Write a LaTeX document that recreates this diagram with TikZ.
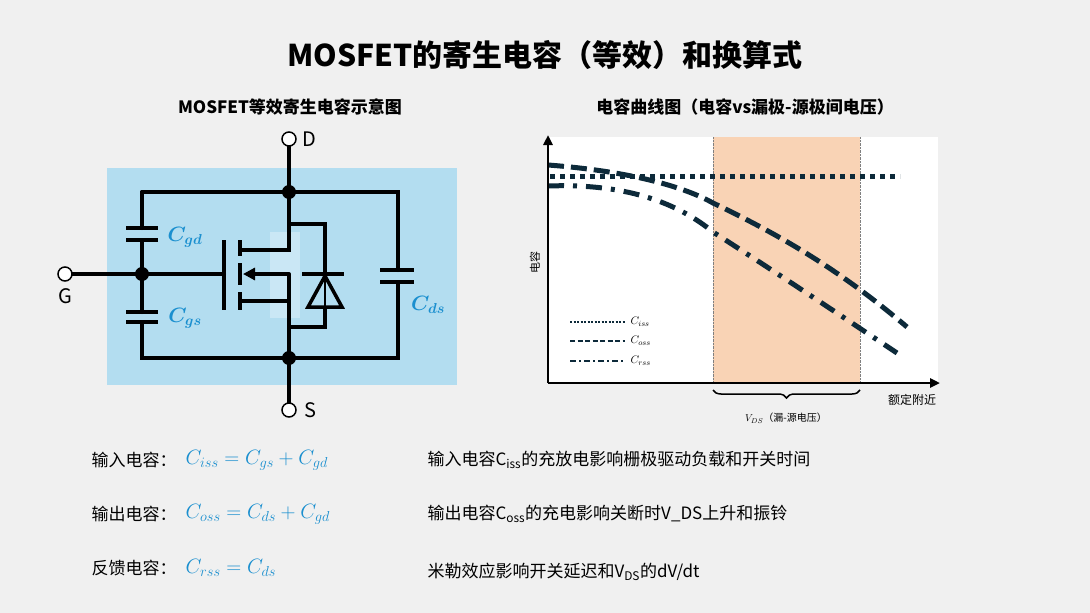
\documentclass[tikz,border=0pt]{standalone}
\usepackage{bm}
\usepackage{fontspec}
\setmainfont{Noto Sans CJK SC}
\setsansfont{Noto Sans CJK SC}
\usetikzlibrary{arrows.meta, decorations.pathreplacing, positioning}
\definecolor{bgcol}{HTML}{F0F0F0}
\definecolor{cktblue}{HTML}{B3DDF0}
\definecolor{capblue}{HTML}{1A8FCF}
\definecolor{band}{HTML}{F9D3B5}
\definecolor{curve}{HTML}{0D2A3A}
\tikzset{
  wire/.style={line width=4pt, line cap=round},
  plate/.style={line width=4pt},
  term/.style={circle, draw=black, fill=white, line width=1.5pt, minimum size=14pt, inner sep=0pt},
  dot/.style={circle, fill=black, minimum size=14pt, inner sep=0pt},
  caplabel/.style={text=capblue, font=\fontsize{20}{20}\selectfont},
  curveline/.style={curve, line width=5pt},
  legline/.style={curve, line width=1.2pt},
  leglabel/.style={anchor=west, font=\fontsize{11}{11}\selectfont},
  rowlabel/.style={anchor=west, font=\fontsize{17}{17}\selectfont},
  rowtext/.style={anchor=west, font=\fontsize{17}{17}\selectfont},
  formula/.style={anchor=west, text=capblue, font=\fontsize{22}{22}\selectfont},
}
\begin{document}
\begin{tikzpicture}[x=1pt, y=-1pt]
\useasboundingbox (0,0) rectangle (1090,613);
\fill[bgcol] (0,0) rectangle (1090,613);

% titles
\node[font=\bfseries\fontsize{30}{30}\selectfont] (title) at (545,55) {MOSFET的寄生电容（等效）和换算式};
\node[font=\bfseries\fontsize{17}{17}\selectfont] (subl) at (290,107) {MOSFET等效寄生电容示意图};
\node[font=\bfseries\fontsize{17}{17}\selectfont] (subr) at (745,107) {电容曲线图（电容vs漏极-源极间电压）};

% ---- circuit
\fill[cktblue] (107,168) rectangle (457,385);
\fill[cktblue!70!white] (270,232) rectangle (300,318);
\coordinate (dn) at (289,192);
\coordinate (sn) at (289,358);
\coordinate (gn) at (142,274);
\draw[wire] (142,192) -- (398,192) -- (398,270);
\draw[wire] (398,282) -- (398,358) -- (142,358) -- (142,322);
\draw[wire] (142,312) -- (142,240);
\draw[wire] (142,228) -- (142,192);
\draw[plate] (126,228) -- (158,228) (126,240) -- (158,240);
\draw[plate] (126,312) -- (158,312) (126,322) -- (158,322);
\draw[plate] (380,270) -- (414,270) (380,282) -- (414,282);
\node[caplabel] (cgd) at (185,237) {$\bm{C_{gd}}$};
\node[caplabel] (cgs) at (185,318) {$\bm{C_{gs}}$};
\node[caplabel] (cds) at (428,305) {$\bm{C_{ds}}$};
% mosfet
\draw[wire] (gn) -- (224,274);
\draw[plate] (224,240) -- (224,310);
\draw[plate] (240,240) -- (240,256) (240,263) -- (240,285) (240,292) -- (240,310);
\draw[wire] (240,250) -- (289,250) -- (dn);
\draw[wire] (240,301) -- (289,301) -- (sn);
\draw[wire] (289,274) -- (289,301);
\draw[line width=4pt, -{Triangle[length=12pt,width=12pt]}] (289,274) -- (243,274);
% diode
\draw[wire] (289,224) -- (325,224) -- (325,274);
\draw[wire] (325,308) -- (325,327) -- (289,327);
\draw[plate] (302,274) -- (344,274);
\draw[line width=3.5pt, line join=miter] (325,276) -- (342,307) -- (308,307) -- cycle;
\draw[line width=2.5pt] (325,276) -- (325,308);
% terminals
\draw[wire] (dn) -- (289,139);
\draw[wire] (sn) -- (289,410);
\draw[wire] (gn) -- (65,274);
\node[dot] (dnode) at (dn) {};
\node[dot] (snode) at (sn) {};
\node[dot] (gnode) at (gn) {};
\node[term] (dt) at (289,139) {};
\node[term] (st) at (289,410) {};
\node[term] (gt) at (65,274) {};
\node[font=\fontsize{20}{20}\selectfont, right=2pt of dt] (dlab) {D};
\node[font=\fontsize{20}{20}\selectfont, right=4pt of st] (slab) {S};
\node[font=\fontsize{20}{20}\selectfont, below=3pt of gt] (glab) {G};

% ---- chart
\fill[white] (548,137) rectangle (938,383);
\fill[band] (713,137) rectangle (860,383);
\draw[gray, densely dotted] (713,137) -- (713,383) (860,137) -- (860,383);
\draw[curveline, dash pattern=on 5pt off 5pt] (550,176) -- (900,176);
\draw[curveline, dash pattern=on 16pt off 7pt] (548,165) .. controls (640,172) and (690,190) .. (713,203) .. controls (780,235) and (840,270) .. (907,327);
\draw[curveline, dash pattern=on 16pt off 9pt on 4pt off 9pt] (548,186) .. controls (630,183) and (680,205) .. (713,232) .. controls (780,275) and (840,315) .. (897,353);
\coordinate (orig) at (548,383);
\draw[line width=2.5pt, -{Triangle[length=10pt,width=9pt]}] (orig) -- (548,135);
\draw[line width=2.5pt, -{Triangle[length=10pt,width=9pt]}] (orig) -- (940,383);
\node[rotate=90, font=\fontsize{11}{11}\selectfont] (ylab) at (535,262) {电容};
\node[font=\fontsize{12}{12}\selectfont] (xlab) at (912,400) {额定附近};
\draw[decorate, decoration={brace, mirror, amplitude=8pt}, line width=1.5pt] (713,390) -- (860,390);
\node[font=\fontsize{10}{10}\selectfont] (vds) at (786,418) {$V_{DS}$（漏-源电压）};
% legend
\draw[legline, dash pattern=on 2pt off 1.5pt] (570,322) -- (625,322);
\draw[legline, dash pattern=on 5pt off 2.5pt] (570,341) -- (625,341);
\draw[legline, dash pattern=on 6pt off 3pt on 2pt off 3pt] (570,361) -- (625,361);
\node[leglabel] (liss) at (627,322) {$C_{iss}$};
\node[leglabel] (loss) at (627,341) {$C_{oss}$};
\node[leglabel] (lrss) at (627,361) {$C_{rss}$};

% ---- bottom rows
\node[rowlabel] (r1) at (88,460) {输入电容：};
\node[rowlabel] (r2) at (88,514) {输出电容：};
\node[rowlabel] (r3) at (88,568) {反馈电容：};
\node[formula, right=2pt of r1] (f1) {$C_{iss}=C_{gs}+C_{gd}$};
\node[formula, right=2pt of r2] (f2) {$C_{oss}=C_{ds}+C_{gd}$};
\node[formula, right=2pt of r3] (f3) {$C_{rss}=C_{ds}$};
\node[rowtext] (t1) at (424,460) {输入电容\textit{C}\textsubscript{\textit{iss}}的充放电影响栅极驱动负载和开关时间};
\node[rowtext] (t2) at (424,514) {输出电容\textit{C}\textsubscript{\textit{oss}}的充电影响关断时V\_DS上升和振铃};
\node[rowtext] (t3) at (424,572) {米勒效应影响开关延迟和\textit{V}\textsubscript{\textit{DS}}的dV/dt};
\end{tikzpicture}
\end{document}
